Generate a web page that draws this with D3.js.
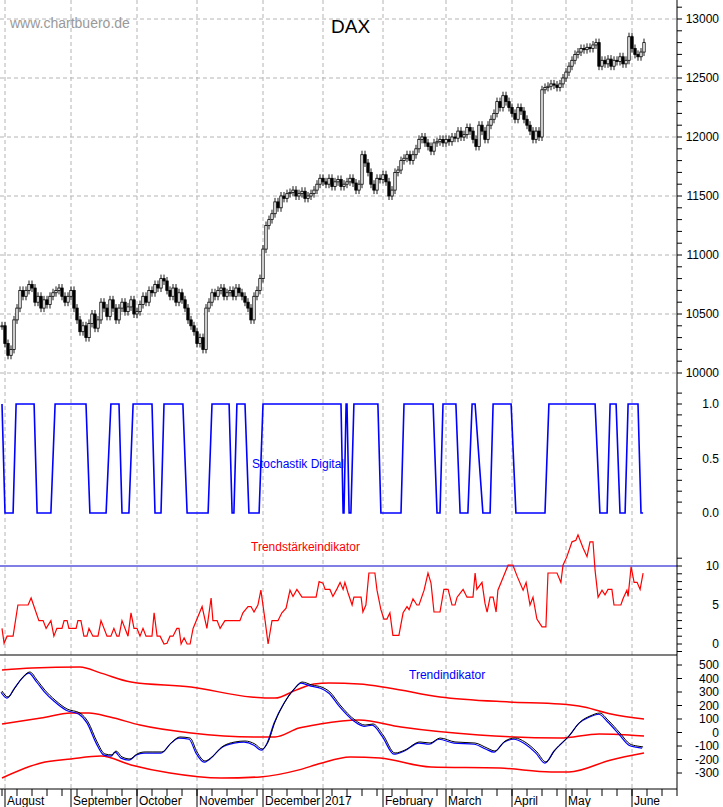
<!DOCTYPE html>
<html>
<head>
<meta charset="utf-8">
<script src="https://cdn.jsdelivr.net/npm/d3@7"></script>
<style>
  body { margin: 0; background: #fff; }
  text { font-family: "Liberation Sans", Arial, sans-serif; }
</style>
</head>
<body>
<div id="chart"></div>
<script>
const W = 723, H = 807;
const plotRight = 677;

// DAX daily closes (trading day 0 = 1 Aug 2016)
const closes = [
  10400,10250,10150,10200,10450,10550,10700,10650,10700,10750,10720,
  10600,10650,10550,10620,10580,10650,10680,10700,10720,10650,10600,
  10650,10700,10550,10450,10350,10400,10300,10420,10500,10380,10450,10600,10550,10480,10620,10550,10450,10550,10600,10520,10560,10620,
  10500,10520,10580,10650,10600,10700,10680,10750,10720,10800,10780,10700,10650,10720,10600,10680,10620,10550,10450,10400,
  10350,10250,10300,10200,10550,10600,10680,10650,10700,10720,10650,10680,10700,10650,10720,10680,10650,10600,10550,10450,10650,10700,
  10800,11050,11250,11300,11350,11450,11400,11500,11480,11520,11530,11550,11500,11520,11540,11480,11500,11520,11550,11600,
  11650,11620,11600,11650,11580,11620,11640,11580,11600,11620,11650,11610,11550,11600,11850,11780,11700,11600,11550,11650,11640,
  11680,11620,11500,11550,11700,11720,11800,11820,11850,11800,11850,11900,11980,12000,11950,11920,11880,11950,11960,11980,
  11950,11980,11960,12000,11990,12050,12000,12020,12080,12050,11980,11920,12100,12050,11980,12100,12150,12200,12300,12250,12350,12300,12250,
  12200,12150,12250,12220,12150,12100,12050,11980,12050,12000,12400,12420,12430,12450,12440,12420,12450,12500,
  12550,12600,12650,12700,12720,12750,12740,12760,12750,12780,12800,12600,12650,12620,12660,12600,12650,12640,12680,12620,12650,
  12850,12750,12700,12680,12720,12800
];

const monthNames = ["August","September","October","November","December","2017","February","March","April","May","June"];
const monthStarts = [0,22,44,64,86,106,126,147,169,187,209];

const priceTicks = [10000,10500,11000,11500,12000,12500,13000];
const stochTicks = [0,0.5,1];
const strengthTicks = [0,5,10];
const trendTicks = [-300,-200,-100,0,100,200,300,400,500];

// Stochastik Digital turning points [day, value]
const stochKnots = [[0,1],[1,0],[3.7,0],[4.7,1],[10.7,1],[11.7,0],[16.3,0],[17.7,1],[28,1],[29.3,0],[34.7,0],[36.3,1],
  [39,1],[40,0],[42.3,0],[43.7,1],[50,1],[51,0],[53,0],[54,1],[60.3,1],[61.7,0],[68.7,0],[70,1],[75.7,1],[76.7,0],
  [77.3,0],[78.3,1],[81,1],[82.3,0],[85.7,0],[87,1],[113,1],[113.7,0],[114,0],[114.7,1],[115,1],[115.7,0],[116.3,0],
  [117.3,1],[125.3,1],[126.3,0],[133,0],[134,1],[143.7,1],[145,0],[146,0],[147,1],[151.3,1],[152.7,0],[155.3,0],
  [156.7,1],[157.7,1],[160.3,0],[162.7,0],[163.7,1],[169.7,1],[171.3,0],[181,0],[182.3,1],[197.7,1],[199.3,0],
  [201.7,0],[202.7,1],[204.7,1],[206,0],[207.7,0],[208.7,1],[212,1],[213,0],[213.7,0]];

// Trendstärkeindikator [day, value]
const strength = [[0,2],[0.7,0.1],[1.7,1],[3.7,1],[5.3,5],[8.7,5],[9.7,5.9],[12.3,3],[13.7,3],[14.7,2],[16.3,3],[17.3,1],
  [18.3,2],[20,2],[20.7,3],[21.7,3],[22.3,2],[24.7,2],[25.3,3],[26.3,3],[27.3,1],[28.3,1],[29,2],[30.3,1],[32,1],[33,3],
  [35,1],[36.3,1],[37.3,2],[38.3,1],[39,1],[40,3],[42,1],[43,4],[44,2],[45,2],[46,1],[47,2],[48,1],[50,1],[50.7,4],
  [51.7,1],[52.7,1],[54,0],[55,0.1],[56,1],[57,1],[58.3,2],[59,2],[59.7,0],[60.7,0.8],[61.7,0],[62.7,0],[63.7,2],
  [66.7,4.8],[68.3,2],[69.7,5.9],[70.3,3],[71.7,3],[72.7,2],[74.3,3],[79.3,3],[80.3,4],[82,4.8],[83,4.8],[84,4.1],
  [85.3,5],[86.3,6.9],[87.7,3],[88.7,0],[90,3],[92,3],[93.3,4],[94.7,4.6],[96,6.9],[97,6.1],[98.3,7],[100,6],[104.7,6],
  [105.7,8],[107,7.8],[107.7,7],[109.3,7],[110.3,6.1],[111.7,7.1],[112.7,7.9],[113.7,7],[114.3,7.9],[115.3,6.6],
  [116.7,5],[117.3,6],[119.7,6],[120.3,4.1],[121.3,5],[122.3,9.1],[124.3,9.1],[125,6.9],[126.3,4.4],[127.3,3.2],
  [128.3,3.2],[129.3,4],[130.3,1.1],[132.3,1.1],[133.7,4],[135,4.8],[135.7,4.4],[137,5.8],[138.3,5],[139,5],[140.7,6.9],
  [142,9.1],[143,7.8],[144,4.1],[146,4.1],[147.3,7],[148.7,7],[150,5],[151,5],[151.7,6],[153.7,7],[155,6],[157,6],
  [157.7,9.1],[158.3,7],[160,7.9],[161,5.2],[161.7,4.1],[162.7,6],[163.7,6],[164.7,4.1],[165.3,6.9],[167,8.5],
  [168.7,10.1],[170.3,10.1],[171.7,8.7],[173.7,6.9],[174.7,7.9],[176,5],[177,6],[178.3,3.2],[180,2.2],[181.3,2.2],
  [182,9.1],[185,9.1],[186.3,7.9],[187,10.1],[188.3,11.2],[190,13.1],[191.3,13.3],[192,14],[193.7,12.3],[195,11.2],
  [196,13.1],[197,13.1],[197.7,9.4],[198.7,6],[200,6.9],[201,6.3],[202,7],[203.3,7],[204,5],[206.3,5],[207,5.8],
  [208.3,6.9],[208.7,6.1],[209.7,9.9],[210.7,7.9],[211.7,7.9],[212.7,7],[213.7,9.1]];

// Trendindikator line [day, value]
const trend = [[0,307],[2,263],[4.3,330],[6.7,403],[9.3,448],[11.7,388],[14.3,314],[17.7,240],[21.7,174],[26,144],
  [28.7,78],[31.7,-70],[34.3,-159],[36.7,-166],[38,-137],[40,-181],[42.7,-196],[45,-159],[47.7,-144],[50.3,-144],
  [53.3,-144],[56.7,-70],[59.3,-33],[62.7,-41],[65,-144],[67.7,-211],[70,-181],[73.3,-107],[77.7,-70],[81,-63],
  [84.3,-85],[86.7,-122],[88.7,-70],[91,78],[94.3,226],[97.7,330],[100,374],[103.3,352],[106.7,335],[109.3,300],
  [112.7,204],[117.7,92],[121,55],[123.7,63],[127,-18],[131,-152],[134.3,-130],[139.3,-70],[142.7,-78],[146,-41],
  [151,-70],[157.7,-78],[161.7,-115],[164.3,-137],[167.7,-63],[171,-41],[174.3,-70],[178.3,-144],[181.3,-218],
  [184.3,-130],[189.3,-18],[192.7,78],[196,122],[199.3,144],[202,92],[206,-4],[209.3,-85],[211.7,-100],[213.7,-107]];

const bandUpper = [[0,463],[10,477],[26,485],[33,440],[43,374],[63,337],[83,263],[91,255],[98,314],[104,359],[109,366],
  [119,359],[129,330],[146,263],[169,226],[186,211],[194,189],[203,137],[214,100]];
const bandMiddle = [[0,63],[13,107],[23,144],[29,144],[36,115],[46,55],[63,-4],[84,-33],[91,-33],[99,33],[106,63],
  [119,92],[133,41],[159,-18],[186,-41],[199,-11],[209,-18],[214,-26]];
const bandLower = [[0,-337],[13,-226],[23,-196],[33,-174],[43,-240],[56,-300],[73,-337],[86,-329],[99,-277],[106,-230],
  [116,-181],[126,-189],[143,-255],[166,-263],[183,-292],[189,-292],[203,-203],[214,-152]];

const svg = d3.select("#chart").append("svg")
  .attr("width", W).attr("height", H)
  .style("font-size", "12px");

const x = d3.scaleLinear().domain([0, 214]).range([2, 644]);
const yPrice = d3.scaleLinear().domain([10000, 13000]).range([373, 19]);
const yStoch = d3.scaleLinear().domain([0, 1]).range([513, 404]);
const yStrength = d3.scaleLinear().domain([0, 10]).range([644, 566]);
const yTrend = d3.scaleLinear().domain([-300, 500]).range([773, 665]);

// grid
svg.append("g").selectAll("line").data(monthStarts).join("line")
  .attr("x1", d => x(d) + 3).attr("x2", d => x(d) + 3)
  .attr("y1", 0).attr("y2", 788)
  .attr("stroke", "#b4b4b4").attr("stroke-dasharray", "4,3");
svg.append("g").selectAll("line").data(priceTicks).join("line")
  .attr("x1", 0).attr("x2", plotRight)
  .attr("y1", d => yPrice(d)).attr("y2", d => yPrice(d))
  .attr("stroke", "#b4b4b4").attr("stroke-dasharray", "4,3");

// candles
const candles = closes.map((c, i) => ({ i, o: i ? closes[i - 1] : c, c }));
svg.append("g").selectAll("line").data(candles).join("line")
  .attr("x1", d => x(d.i)).attr("x2", d => x(d.i))
  .attr("y1", d => yPrice(Math.max(d.o, d.c)) - 4)
  .attr("y2", d => yPrice(Math.min(d.o, d.c)) + 4)
  .attr("stroke", "#000").attr("stroke-width", 0.9);
svg.append("g").selectAll("rect").data(candles).join("rect")
  .attr("x", d => x(d.i) - 1.2).attr("width", 2.4)
  .attr("y", d => yPrice(Math.max(d.o, d.c)))
  .attr("height", d => Math.max(1, Math.abs(yPrice(d.o) - yPrice(d.c))))
  .attr("fill", d => d.c >= d.o ? "#fff" : "#000")
  .attr("stroke", "#000").attr("stroke-width", 0.8);

svg.append("text").attr("x", 10).attr("y", 28).attr("fill", "#999").style("font-size", "14px").text("www.chartbuero.de");
svg.append("text").attr("x", 331).attr("y", 33).style("font-size", "19px").text("DAX");

// stochastik digital
const line = (ys) => d3.line().x(d => x(d[0])).y(d => ys(d[1]));
svg.append("path").datum(stochKnots).attr("d", line(yStoch))
  .attr("fill", "none").attr("stroke", "#0000ff").attr("stroke-width", 1.6);
svg.append("text").attr("x", 252).attr("y", 468).attr("fill", "#0000ff").text("Stochastik Digital");

// Trendstärke
svg.append("line").attr("x1", 0).attr("x2", plotRight)
  .attr("y1", yStrength(10)).attr("y2", yStrength(10)).attr("stroke", "#0000cc").attr("stroke-width", 1.2);
svg.append("path").datum(strength).attr("d", line(yStrength))
  .attr("fill", "none").attr("stroke", "#ff0000").attr("stroke-width", 1.2);
svg.append("text").attr("x", 251).attr("y", 551).attr("fill", "#ff0000").text("Trendstärkeindikator");

svg.append("line").attr("x1", 0).attr("x2", plotRight).attr("y1", 655).attr("y2", 655).attr("stroke", "#000").attr("stroke-width", 1.2);

// Trendindikator
const smooth = d3.line().x(d => x(d[0])).y(d => yTrend(d[1])).curve(d3.curveMonotoneX);
[bandUpper, bandMiddle, bandLower].forEach(b => {
  svg.append("path").datum(b).attr("d", smooth)
    .attr("fill", "none").attr("stroke", "#ff0000").attr("stroke-width", 1.5);
});
svg.append("path").datum(trend).attr("d", smooth)
  .attr("transform", "translate(-1,1.2)")
  .attr("fill", "none").attr("stroke", "#0000ff").attr("stroke-width", 1.2);
svg.append("path").datum(trend).attr("d", smooth)
  .attr("fill", "none").attr("stroke", "#000").attr("stroke-width", 1);
svg.append("text").attr("x", 409).attr("y", 679).attr("fill", "#0000ff").text("Trendindikator");

// right axes
svg.append("line").attr("x1", plotRight).attr("x2", plotRight).attr("y1", 0).attr("y2", 789).attr("stroke", "#000");
function rightAxis(scale, ticks, minorStep, fmt) {
  const [lo, hi] = scale.domain();
  const minor = d3.range(Math.ceil(lo / minorStep) * minorStep, hi + minorStep * 1.01, minorStep);
  svg.append("g").selectAll("line").data(minor).join("line")
    .attr("x1", plotRight).attr("x2", plotRight + 5)
    .attr("y1", d => scale(d)).attr("y2", d => scale(d)).attr("stroke", "#000");
  svg.append("g").selectAll("text").data(ticks).join("text")
    .attr("x", 719).attr("y", d => scale(d) + 4).attr("text-anchor", "end")
    .text(fmt);
}
rightAxis(yPrice, priceTicks, 100, d => d);
rightAxis(yStoch, stochTicks, 0.1, d => d3.format(".1f")(d));
rightAxis(yStrength, strengthTicks, 1, d => d);
rightAxis(yTrend, trendTicks, 100, d => d);

// bottom axis
svg.append("line").attr("x1", 0).attr("x2", plotRight).attr("y1", 789).attr("y2", 789).attr("stroke", "#000");
svg.append("g").selectAll("line").data(d3.range(0, 230, 5)).join("line")
  .attr("x1", d => x(d)).attr("x2", d => x(d)).attr("y1", 789).attr("y2", 796).attr("stroke", "#000");
svg.append("g").selectAll("line").data(monthStarts).join("line")
  .attr("x1", d => x(d) + 3).attr("x2", d => x(d) + 3).attr("y1", 789).attr("y2", 807).attr("stroke", "#000");
svg.append("g").selectAll("text").data(monthNames).join("text")
  .attr("x", (d, i) => x(monthStarts[i]) + 5).attr("y", 805).text(d => d);
</script>
</body>
</html>
